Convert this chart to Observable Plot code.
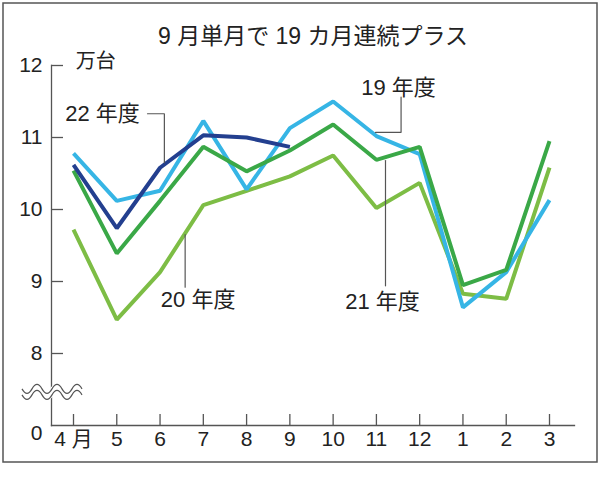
<!DOCTYPE html>
<html>
<head>
<meta charset="utf-8">
<script src="https://cdn.jsdelivr.net/npm/d3@7"></script>
<script src="https://cdn.jsdelivr.net/npm/@observablehq/plot@0.6"></script>
<style>
  html, body { margin: 0; padding: 0; background: #fff; }
  #chart svg { display: block; }
</style>
</head>
<body>
<div id="chart"></div>
<script>
// ---- data ----
const title = "9 月単月で 19 カ月連続プラス";
const unitLabel = "万台";
const months = ["4 月", "5", "6", "7", "8", "9", "10", "11", "12", "1", "2", "3"];
const yTicks = [8, 9, 10, 11, 12];
const fy19 = [10.78, 10.12, 10.26, 11.23, 10.28, 11.13, 11.50, 11.02, 10.77, 8.64, 9.13, 10.13];
const fy20 = [9.72, 8.47, 9.13, 10.06, 10.26, 10.46, 10.75, 10.02, 10.37, 8.83, 8.76, 10.58];
const fy21 = [10.54, 9.39, 10.12, 10.87, 10.53, 10.82, 11.18, 10.69, 10.87, 8.95, 9.16, 10.95];
const fy22 = [10.62, 9.74, 10.58, 11.03, 11.00, 10.87];
const seriesNames = ["20 年度", "19 年度", "21 年度", "22 年度"];

// ---- styles ----
const colors = {"19 年度": "#36b5e5", "20 年度": "#7dbd45", "21 年度": "#3aa847", "22 年度": "#233f8f"};
const font = "'Liberation Sans', 'Noto Sans CJK JP', Arial, sans-serif";

const valuesByName = {"19 年度": fy19, "20 年度": fy20, "21 年度": fy21, "22 年度": fy22};
const rows = seriesNames.flatMap(name => valuesByName[name].map((v, i) => ({name, i, v})));

// annotations (label anchor in data space: month index, value)
const labels = [
  {text: "22 年度", i: 0.67, v: 11.33},
  {text: "19 年度", i: 7.51, v: 11.69},
  {text: "21 年度", i: 7.14, v: 8.71},
  {text: "20 年度", i: 2.88, v: 8.75}
];
const leaders = [
  {id: "22", pts: [[1.71, 11.33], [2.10, 11.33], [2.10, 10.65]]},
  {id: "19", pts: [[7.57, 11.56], [7.57, 11.07], [6.98, 11.07]]},
  {id: "21", pts: [[7.21, 10.68], [7.21, 8.94]]},
  {id: "20", pts: [[2.58, 9.65], [2.58, 8.92]]}
];
const leaderRows = leaders.flatMap(l => l.pts.map(([i, v]) => ({id: l.id, i, v})));

const W = 600, H = 479;
const mTop = 65, mBottom = H - 425, mLeft = 51, mRight = 26;
const frameW = W - mLeft - mRight, frameH = H - mTop - mBottom;

const plot = Plot.plot({
  width: W,
  height: H,
  marginTop: mTop,
  marginBottom: mBottom,
  marginLeft: mLeft,
  marginRight: mRight,
  style: {fontFamily: font, background: "#fff", color: "#222"},
  x: {type: "linear", domain: [0, 11], range: [73, 549]},
  y: {type: "linear", domain: [7, 12], range: [425, 65]},
  marks: [
    Plot.frame({anchor: "left", stroke: "#555", strokeWidth: 1.3}),
    Plot.frame({anchor: "bottom", stroke: "#555", strokeWidth: 1.3}),
    Plot.tickY(yTicks, {y: d => d, stroke: "#555", strokeWidth: 1.3, insetRight: frameW - 12}),
    Plot.tickX(d3.range(months.length), {x: d => d, stroke: "#555", strokeWidth: 1.3, insetTop: frameH - 11}),
    Plot.axisY(yTicks, {tickSize: 0, tickPadding: 9, tickFormat: d => d, fontSize: 21, fill: "#222", label: null}),
    Plot.text(["0"], {x: () => 0, y: () => 7, dx: -31, dy: 8, textAnchor: "end", fontSize: 21, fill: "#222"}),
    Plot.axisX(d3.range(months.length), {tickSize: 0, tickPadding: 6, tickFormat: i => months[i], fontSize: 21, fill: "#222", label: null}),
    Plot.line(rows, {x: "i", y: "v", z: "name", stroke: d => colors[d.name], strokeWidth: 4, strokeLinejoin: "miter", strokeLinecap: "butt"}),
    Plot.line(leaderRows, {x: "i", y: "v", z: "id", stroke: "#555", strokeWidth: 1.2, strokeLinejoin: "miter"}),
    Plot.text(labels, {x: "i", y: "v", text: "text", fontSize: 22, fill: "#222", textAnchor: "middle"}),
    Plot.text([unitLabel], {x: () => 0.05, y: () => 12.06, textAnchor: "start", fontSize: 20, fill: "#222"}),
    Plot.text([title], {frameAnchor: "top", dy: 27 - mTop, fontSize: 23, fill: "#222"})
  ]
});

// decorations: axis break symbol and outer border
const svg = d3.select(plot);
const ys = plot.scale("y");
const yb = ys.apply(7.46);
const wave = (y0) => `M22,${y0} q5,9 10,0 t10,0 t10,0 t10,0 t10,0 t10,0`;
const g = svg.append("g");
g.append("path").attr("d", wave(yb)).attr("fill", "none").attr("stroke", "#fff").attr("stroke-width", 7);
g.append("path").attr("d", wave(yb - 3)).attr("fill", "none").attr("stroke", "#555").attr("stroke-width", 1.2);
g.append("path").attr("d", wave(yb + 3)).attr("fill", "none").attr("stroke", "#555").attr("stroke-width", 1.2);
svg.append("rect").attr("x", 3).attr("y", 3).attr("width", 594).attr("height", 459)
  .attr("fill", "none").attr("stroke", "#555").attr("stroke-width", 1.5);

document.getElementById("chart").appendChild(plot);
</script>
</body>
</html>
